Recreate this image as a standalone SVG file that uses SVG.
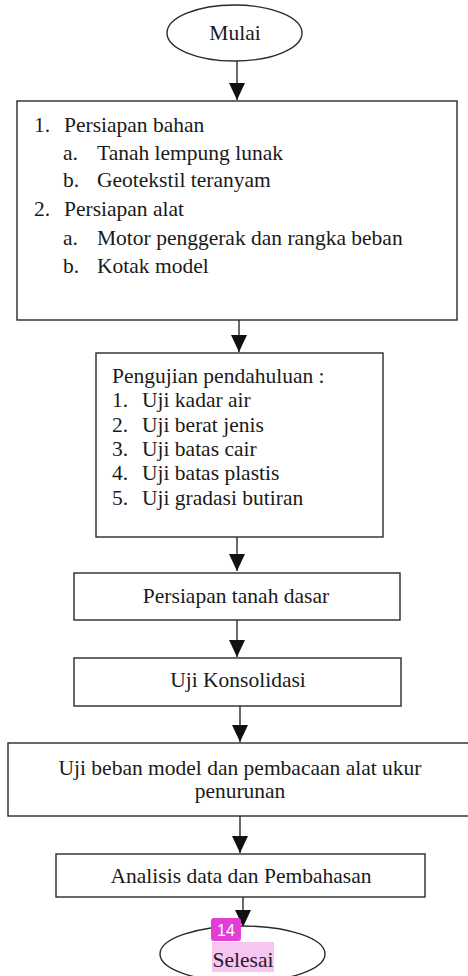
<svg xmlns="http://www.w3.org/2000/svg" width="468" height="976" viewBox="0 0 468 976">
<defs>
<marker id="ah" markerUnits="userSpaceOnUse" markerWidth="17" markerHeight="16" refX="17" refY="8" orient="auto">
<path d="M0,0 L17,8 L0,16 z" fill="#111"/>
</marker>
<style>
.box{fill:#fff;stroke:#2a2a2a;stroke-width:1.4}
.t{font-family:"Liberation Serif","Times New Roman",serif;font-size:21.5px;fill:#1a1a1a}
.c{text-anchor:middle}
.con{stroke:#1a1a1a;stroke-width:1.3;fill:none;marker-end:url(#ah)}
</style>
</defs>
<rect width="468" height="976" fill="#fff"/>
<g id="connectors">
<line class="con" x1="237" y1="61" x2="237" y2="100"/>
<line class="con" x1="239" y1="320" x2="239" y2="352"/>
<line class="con" x1="237" y1="537" x2="237" y2="571"/>
<line class="con" x1="237" y1="620" x2="237" y2="657"/>
<line class="con" x1="240" y1="706" x2="240" y2="742"/>
<line class="con" x1="240" y1="816" x2="240" y2="853"/>
<line class="con" x1="243" y1="897" x2="243" y2="927"/>
</g>
<g id="mulai">
<ellipse class="box" cx="234.5" cy="33" rx="67.5" ry="28"/>
<text class="t c" x="235" y="40">Mulai</text>
</g>
<g id="persiapan">
<rect class="box" x="17" y="101" width="440" height="219"/>
<text class="t" x="34" y="132">1.</text><text class="t" x="64" y="132">Persiapan bahan</text>
<text class="t" x="63" y="160">a.</text><text class="t" x="97" y="160">Tanah lempung lunak</text>
<text class="t" x="63" y="187">b.</text><text class="t" x="97" y="187">Geotekstil teranyam</text>
<text class="t" x="34" y="216">2.</text><text class="t" x="64" y="216">Persiapan alat</text>
<text class="t" x="63" y="245">a.</text><text class="t" x="97" y="245">Motor penggerak dan rangka beban</text>
<text class="t" x="63" y="273">b.</text><text class="t" x="97" y="273">Kotak model</text>
</g>
<g id="pengujian">
<rect class="box" x="96" y="353" width="287" height="184"/>
<text class="t" x="112" y="383">Pengujian pendahuluan :</text>
<text class="t" x="112" y="407">1.</text><text class="t" x="142" y="407">Uji kadar air</text>
<text class="t" x="112" y="432">2.</text><text class="t" x="142" y="432">Uji berat jenis</text>
<text class="t" x="112" y="456">3.</text><text class="t" x="142" y="456">Uji batas cair</text>
<text class="t" x="112" y="480">4.</text><text class="t" x="142" y="480">Uji batas plastis</text>
<text class="t" x="112" y="505">5.</text><text class="t" x="142" y="505">Uji gradasi butiran</text>
</g>
<g id="tanah-dasar">
<rect class="box" x="74" y="573" width="326" height="47"/>
<text class="t c" x="236" y="603">Persiapan tanah dasar</text>
</g>
<g id="konsolidasi">
<rect class="box" x="74" y="658" width="327" height="48"/>
<text class="t c" x="238" y="687">Uji Konsolidasi</text>
</g>
<g id="uji-beban">
<rect class="box" x="8" y="743" width="466" height="73"/>
<text class="t c" x="240" y="775">Uji beban model dan pembacaan alat ukur</text>
<text class="t c" x="240" y="798">penurunan</text>
</g>
<g id="analisis">
<rect class="box" x="56" y="854" width="369" height="43"/>
<text class="t c" x="241" y="883">Analisis data dan Pembahasan</text>
</g>
<g id="selesai">
<ellipse class="box" cx="242.5" cy="954" rx="82.5" ry="28"/>
<rect x="212" y="942" width="62" height="30" fill="#f6c6f1"/>
<text class="t c" x="243" y="967" style="fill:#2a1a2a">Selesai</text>
<rect x="211" y="918" width="30" height="23" rx="3" fill="#e23ed6"/>
<text x="226" y="935.5" text-anchor="middle" style="font-family:'Liberation Sans',Arial,sans-serif;font-size:16px;fill:#fff">14</text>
</g>
</svg>
